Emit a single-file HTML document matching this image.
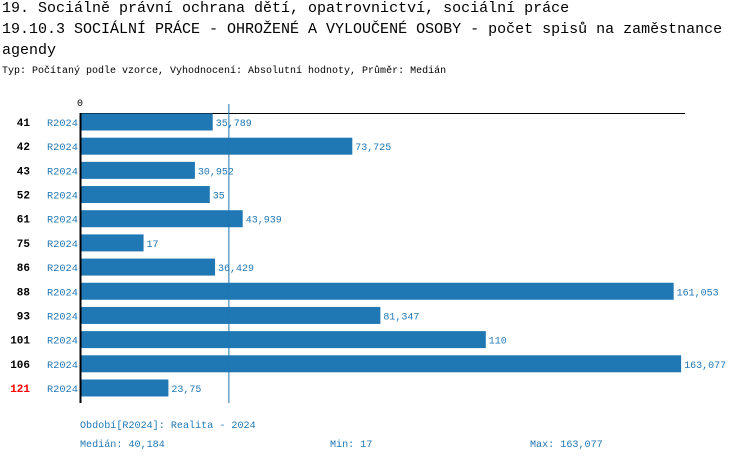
<!DOCTYPE html>
<html><head><meta charset="utf-8"><style>
body{margin:0;width:750px;height:462px;background:#fff;overflow:hidden;font-family:"Liberation Mono","DejaVu Sans Mono",monospace}
.t{position:absolute;left:2px;font-size:15px;color:#000;white-space:nowrap}
.s{position:absolute;left:2px;top:66px;font-size:10px;white-space:nowrap}
</style></head><body>
<div class="t" style="top:0px">19. Sociálně právní ochrana dětí, opatrovnictví, sociální práce</div>
<div class="t" style="top:21px">19.10.3 SOCIÁLNÍ PRÁCE - OHROŽENÉ A VYLOUČENÉ OSOBY - počet spisů na zaměstnance</div>
<div class="t" style="top:42px">agendy</div>
<div class="s">Typ: Počítaný podle vzorce, Vyhodnocení: Absolutní hodnoty, Průměr: Medián</div>
<svg id="c" width="750" height="462" style="position:absolute;left:0;top:0"></svg>
<script>
const categories=["41","42","43","52","61","75","86","88","93","101","106","121"];
const values=[35.789,73.725,30.952,35,43.939,17,36.429,161.053,81.347,110,163.077,23.75];
const valueLabels=["35,789","73,725","30,952","35","43,939","17","36,429","161,053","81,347","110","163,077","23,75"];
const highlighted=["121"];
const median=40.184, minV=17, maxV=163.077;
const svg=document.getElementById('c');
const NS='http://www.w3.org/2000/svg';
const x0=81, pxPer=3.68, y0=122, step=24.18, bh=17;
const xs=v=>x0+v*pxPer, ys=i=>y0+i*step;
function mk(t,a,txt){const e=document.createElementNS(NS,t);for(const k in a)e.setAttribute(k,a[k]);if(txt!=null)e.textContent=txt;svg.appendChild(e);return e;}
const F='"Liberation Mono",monospace';
let e=mk('line',{x1:80,y1:113.5,x2:685,y2:113.5,stroke:'#000','stroke-width':1});

e=mk('text',{x:80,y:106,'font-size':10,'font-family':F,'text-anchor':'middle'},'0');

categories.forEach((c,i)=>{
  const y=ys(i);
  let r=mk('rect',{x:x0,y:y-bh/2,width:values[i]*pxPer,height:bh,fill:'#1f77b4'});
  
  let l=mk('text',{x:xs(values[i])+3,y:y+4,'font-size':10,'font-family':F,fill:'#1f77b4'},valueLabels[i]);
  
  let n=mk('text',{x:30,y:y+4,'font-size':11,'font-weight':'bold','font-family':F,'text-anchor':'end',fill:highlighted.includes(c)?'#f00':'#000'},c);
  
  let p=mk('text',{x:47,y:y+4,'font-size':10.3,'font-family':F,fill:'#1f77b4'},'R2024');
  
});
e=mk('line',{x1:xs(median),y1:104,x2:xs(median),y2:403,stroke:'#1f77b4','stroke-width':1});

e=mk('line',{x1:80.5,y1:113,x2:80.5,y2:403,stroke:'#000','stroke-width':2});

const fmt=v=>String(v).replace('.',',');
e=mk('text',{x:80,y:428,'font-size':10.1,'font-family':F,fill:'#1f77b4'},'Období[R2024]: Realita - 2024');

e=mk('text',{x:80,y:447,'font-size':10.1,'font-family':F,fill:'#1f77b4'},'Medián: '+fmt(median));

e=mk('text',{x:330,y:447,'font-size':10.1,'font-family':F,fill:'#1f77b4'},'Min: '+fmt(minV));

e=mk('text',{x:530,y:447,'font-size':10.1,'font-family':F,fill:'#1f77b4'},'Max: '+fmt(maxV));

</script>
</body></html>
